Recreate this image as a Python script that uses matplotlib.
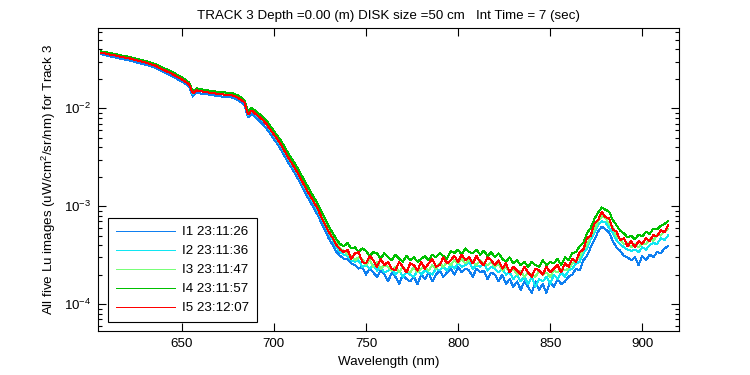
import numpy as np
import matplotlib
matplotlib.use("Agg")
import matplotlib.pyplot as plt
from matplotlib.ticker import NullLocator, LogLocator

plt.rcParams['font.family'] = ['Liberation Sans', 'DejaVu Sans']
plt.rcParams['axes.unicode_minus'] = False
plt.rcParams['mathtext.fontset'] = 'custom'
plt.rcParams['mathtext.rm'] = 'Liberation Sans'
plt.rcParams['mathtext.it'] = 'Liberation Sans'

# Wavelength grid (nm), 606..914 every 2 nm
wavelength = np.arange(606, 915, 2)

# Radiance values in units of 1e-5 uW/cm^2/sr/nm
I1 = [3600, 3500, 3430, 3370, 3310, 3250, 3180, 3120, 3080, 3000, 2930, 2870, 2800, 2740, 2660, 2580, 2460, 2360, 2270, 2170,
      2070, 1980, 1880, 1780, 1680, 1320, 1450, 1420, 1400, 1390, 1370, 1350, 1330, 1320, 1310, 1300, 1280, 1230, 1160, 1080,
      810, 880, 810, 750, 690, 620, 550, 485, 430, 375, 320, 275, 240, 208, 177, 150, 127, 109, 94, 80,
      66, 55, 46, 40, 34, 31, 29,
      29, 26, 25, 23, 24, 20, 23, 21, 19, 22, 20, 17, 21, 19, 16, 20, 18, 17, 19, 16,
      20, 18, 21, 17, 20, 22, 19, 21, 23, 20, 24, 21, 23, 22, 19, 23, 21, 22, 18, 21,
      20, 17, 20, 16, 18, 15, 17, 14, 17, 15, 13, 17, 14, 16, 13, 17, 15, 18, 16, 17,
      19, 20, 23, 22, 28, 31, 38, 45, 55, 62, 58, 54, 44, 38, 35, 31, 30, 28, 30, 25,
      31, 28, 32, 30, 34, 33, 37, 39]
I2 = [3740, 3680, 3610, 3550, 3500, 3430, 3360, 3310, 3260, 3180, 3110, 3040, 2980, 2910, 2830, 2750, 2600, 2500, 2410, 2310,
      2200, 2100, 2000, 1890, 1780, 1400, 1550, 1520, 1500, 1480, 1460, 1440, 1420, 1410, 1400, 1390, 1370, 1315, 1240, 1160,
      860, 950, 870, 810, 750, 680, 600, 530, 470, 410, 352, 302, 263, 229, 195, 165, 141, 121, 105, 89,
      74, 62, 52, 45, 38, 34, 32,
      31, 28, 27, 28, 24, 25, 23, 25, 22, 24, 21, 22, 23, 20, 22, 19, 21, 20, 19, 22,
      20, 22, 21, 20, 23, 22, 24, 22, 25, 23, 26, 24, 25, 27, 23, 25, 24, 26, 22, 24,
      23, 21, 23, 20, 21, 18, 20, 17, 19, 16, 19, 15, 18, 17, 19, 16, 20, 18, 21, 19,
      22, 23, 26, 27, 33, 37, 46, 53, 64, 70, 68, 60, 53, 45, 41, 38, 36, 35, 36, 34,
      38, 36, 40, 42, 41, 47, 45, 50]
I3 = [3760, 3700, 3640, 3580, 3530, 3460, 3390, 3340, 3290, 3210, 3140, 3070, 3010, 2940, 2860, 2780, 2640, 2540, 2450, 2350,
      2240, 2130, 2030, 1920, 1800, 1440, 1570, 1540, 1520, 1500, 1480, 1460, 1440, 1430, 1420, 1410, 1390, 1340, 1270, 1190,
      900, 980, 910, 850, 790, 720, 640, 565, 505, 442, 380, 328, 286, 249, 213, 181, 155, 133, 115, 98,
      82, 68, 57, 49, 42, 37, 35,
      32, 31, 28, 30, 29, 25, 28, 24, 27, 23, 25, 24, 22, 24, 21, 24, 22, 21, 24, 21,
      23, 24, 22, 25, 23, 26, 24, 27, 25, 28, 26, 29, 26, 28, 27, 25, 28, 26, 25, 27,
      24, 26, 22, 24, 21, 23, 20, 22, 19, 21, 20, 19, 22, 20, 21, 19, 22, 21, 23, 22,
      23, 26, 28, 30, 36, 40, 50, 57, 70, 79, 76, 66, 61, 49, 46, 41, 42, 38, 41, 38,
      42, 41, 46, 44, 51, 50, 55, 58]
I4 = [3820, 3770, 3700, 3640, 3590, 3520, 3450, 3400, 3350, 3260, 3190, 3120, 3060, 2990, 2910, 2830, 2690, 2590, 2500, 2400,
      2290, 2180, 2080, 1960, 1840, 1480, 1600, 1570, 1550, 1530, 1510, 1490, 1470, 1460, 1450, 1440, 1420, 1370, 1300, 1220,
      930, 1010, 940, 880, 820, 750, 665, 590, 525, 462, 398, 343, 300, 262, 224, 191, 163, 140, 121, 104,
      87, 73, 61, 53, 46, 41, 39,
      42, 37, 38, 34, 37, 35, 31, 34, 33, 29, 33, 30, 28, 32, 29, 27, 31, 28, 30, 27,
      29, 31, 28, 32, 30, 33, 31, 29, 35, 33, 36, 32, 37, 34, 33, 36, 32, 35, 31, 34,
      30, 33, 29, 27, 30, 26, 28, 25, 27, 24, 27, 25, 24, 28, 25, 27, 26, 29, 25, 30,
      28, 33, 34, 39, 42, 53, 60, 74, 86, 97, 92, 88, 72, 64, 56, 53, 48, 50, 46, 51,
      49, 55, 52, 59, 58, 63, 66, 70]
I5 = [3700, 3650, 3580, 3520, 3470, 3400, 3330, 3280, 3230, 3150, 3080, 3010, 2950, 2880, 2800, 2720, 2580, 2480, 2390, 2290,
      2180, 2080, 1980, 1870, 1760, 1420, 1530, 1500, 1480, 1460, 1440, 1420, 1400, 1390, 1380, 1370, 1350, 1300, 1230, 1150,
      870, 950, 880, 820, 760, 690, 610, 540, 480, 420, 360, 310, 270, 235, 200, 170, 145, 125, 108, 92,
      76, 64, 54, 47, 40, 36, 34,
      36, 29, 33, 34, 27, 26, 31, 28, 24, 29, 25, 27, 23, 22, 27, 24, 21, 26, 25, 22,
      27, 23, 26, 29, 24, 25, 30, 26, 28, 31, 27, 32, 28, 30, 26, 31, 27, 25, 30, 28,
      25, 28, 23, 26, 21, 24, 22, 20, 24, 21, 19, 23, 22, 20, 24, 21, 23, 25, 21, 26,
      24, 29, 27, 34, 36, 47, 50, 66, 72, 88, 77, 75, 58, 55, 45, 47, 39, 44, 38, 44,
      41, 47, 44, 51, 49, 57, 54, 64]

UNIT = 1e-5
series = [I1, I2, I3, I4, I5]
labels = ['I1 23:11:26', 'I2 23:11:36', 'I3 23:11:47', 'I4 23:11:57', 'I5 23:12:07']
colors = ['#0f7ff0', '#10e6f2', '#78ff78', '#00c000', '#ff0000']

W, H = 750, 375
fig = plt.figure(figsize=(W / 100, H / 100), dpi=100)
L, R, T, B = 98.3, 679.3, 28.3, 331.0
ax = fig.add_axes([L / W, 1 - B / H, (R - L) / W, (B - T) / H])

for vals, lab, col in zip(series, labels, colors):
    ax.plot(wavelength, np.array(vals) * UNIT, color=col, lw=0.72, label=lab, antialiased=False)

ax.set_yscale('log')
ax.set_xlim(604.7, 920.1)
ax.set_ylim(5.3e-5, 0.0658)
ax.set_xticks([650, 700, 750, 800, 850, 900])
ax.xaxis.set_minor_locator(NullLocator())
ax.yaxis.set_major_locator(LogLocator(base=10, numticks=10))
ax.yaxis.set_minor_locator(LogLocator(base=10, subs=np.arange(2, 10), numticks=20))

fs = 9.6
ax.tick_params(which='both', direction='in', top=True, right=True, width=0.8, labelsize=fs)
ax.tick_params(which='major', length=5.5, pad=5)
ax.tick_params(which='minor', length=3)
for s in ax.spines.values():
    s.set_linewidth(0.8)

ax.set_title('TRACK 3 Depth =0.00 (m) DISK size =50 cm   Int Time = 7 (sec)', fontsize=fs, pad=7)
ax.set_xlabel('Wavelength (nm)', fontsize=fs, labelpad=4)
ax.set_ylabel('All five Lu images (uW/cm$^2$/sr/nm) for Track 3', fontsize=fs, labelpad=4)

leg = ax.legend(loc='lower left', bbox_to_anchor=((108.3 - L) / (R - L), (B - 322.3) / (B - T)),
                borderaxespad=0, fontsize=fs, handlelength=4.4, handletextpad=0.5,
                labelspacing=0.5, borderpad=0.6, fancybox=False, framealpha=1,
                edgecolor='black')
leg.get_frame().set_linewidth(0.8)

fig.savefig('out.png', dpi=100)
